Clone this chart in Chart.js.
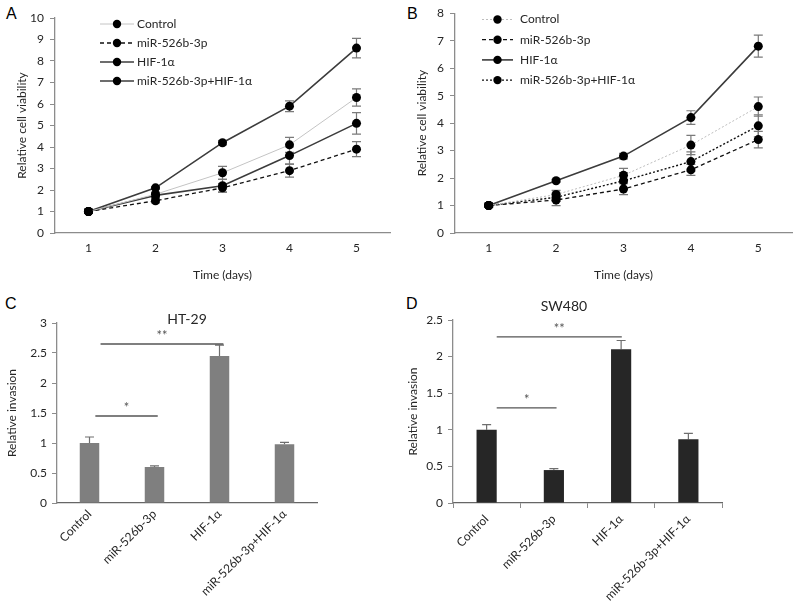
<!DOCTYPE html>
<html>
<head>
<meta charset="utf-8">
<script src="https://cdn.jsdelivr.net/npm/chart.js@4.4.0/dist/chart.umd.min.js"></script>
<style>
  body { margin: 0; background: #fff; width: 800px; height: 605px; position: relative; overflow: hidden; }
  .panel { position: absolute; }
  .letter { position: absolute; font: 16px 'Liberation Sans', Arial, sans-serif; color: #000; }
</style>
</head>
<body>
<div class="letter" style="left:6px;top:5px">A</div>
<div class="letter" style="left:407px;top:5px">B</div>
<div class="letter" style="left:5px;top:295px">C</div>
<div class="letter" style="left:406px;top:295px">D</div>
<canvas id="chartA" class="panel" style="left:0;top:0" width="400" height="290"></canvas>
<canvas id="chartB" class="panel" style="left:400px;top:0" width="400" height="290"></canvas>
<canvas id="chartC" class="panel" style="left:0;top:290px" width="400" height="315"></canvas>
<canvas id="chartD" class="panel" style="left:400px;top:290px" width="400" height="315"></canvas>
<script>
// 数値データ
const days = ['1', '2', '3', '4', '5'];
const groups = ['Control', 'miR-526b-3p', 'HIF-1α', 'miR-526b-3p+HIF-1α'];

// A: 細胞生存率
const aControl = [1, 1.8, 2.8, 4.1, 6.3];
const aControlErr = [0.05, 0.1, 0.3, 0.35, 0.4];
const aMir = [1, 1.5, 2.1, 2.9, 3.9];
const aMirErr = [0.05, 0.1, 0.2, 0.3, 0.35];
const aHif = [1, 2.1, 4.2, 5.9, 8.6];
const aHifErr = [0.05, 0.05, 0.1, 0.25, 0.45];
const aCombo = [1, 1.75, 2.2, 3.6, 5.1];
const aComboErr = [0.05, 0.1, 0.3, 0.4, 0.5];

// B: 細胞生存率
const bControl = [1, 1.4, 2.1, 3.2, 4.6];
const bControlErr = [0.05, 0.15, 0.25, 0.35, 0.35];
const bMir = [1, 1.2, 1.6, 2.3, 3.4];
const bMirErr = [0.05, 0.2, 0.2, 0.2, 0.3];
const bHif = [1, 1.9, 2.8, 4.2, 6.8];
const bHifErr = [0.05, 0.05, 0.1, 0.25, 0.4];
const bCombo = [1, 1.3, 1.9, 2.6, 3.9];
const bComboErr = [0.05, 0.15, 0.3, 0.35, 0.4];

// C, D: 浸潤
const cInvasion = [1.0, 0.6, 2.45, 0.98];
const cInvasionErr = [0.1, 0.02, 0.18, 0.03];
const dInvasion = [1.0, 0.45, 2.1, 0.87];
const dInvasionErr = [0.07, 0.02, 0.12, 0.08];

const FONT = 'Lato';
const AXIS = '#8c8c8c';
const TXT = '#262626';

// エラーバー
const errorBars = {
  id: 'errorBars',
  beforeDatasetsDraw(chart, args, o) {
    const ctx = chart.ctx;
    const y = chart.scales.y;
    chart.data.datasets.forEach((ds, i) => {
      if (!ds.errors) return;
      chart.getDatasetMeta(i).data.forEach((el, j) => {
        const v = ds.data[j], e = ds.errors[j];
        const top = y.getPixelForValue(v + e);
        const bot = o.up ? y.getPixelForValue(v) : y.getPixelForValue(v - e);
        ctx.save();
        ctx.strokeStyle = o.color;
        ctx.lineWidth = 1.2;
        ctx.beginPath();
        ctx.moveTo(el.x, top); ctx.lineTo(el.x, bot);
        ctx.moveTo(el.x - o.cap, top); ctx.lineTo(el.x + o.cap, top);
        if (!o.up) { ctx.moveTo(el.x - o.cap, bot); ctx.lineTo(el.x + o.cap, bot); }
        ctx.stroke();
        ctx.restore();
      });
    });
  }
};

// グラフ内の凡例
const insideLegend = {
  id: 'insideLegend',
  afterDraw(chart, args, o) {
    const ctx = chart.ctx;
    chart.data.datasets.forEach((ds, i) => {
      const y = o.y0 + i * o.dy;
      ctx.save();
      ctx.strokeStyle = ds.borderColor;
      ctx.lineWidth = ds.borderWidth;
      ctx.setLineDash(ds.borderDash || []);
      ctx.beginPath(); ctx.moveTo(o.x0, y); ctx.lineTo(o.x1, y); ctx.stroke();
      ctx.setLineDash([]);
      ctx.fillStyle = '#000';
      ctx.beginPath(); ctx.arc((o.x0 + o.x1) / 2, y, 4.2, 0, Math.PI * 2); ctx.fill();
      ctx.fillStyle = TXT;
      ctx.font = '12px ' + FONT;
      ctx.textBaseline = 'middle';
      ctx.fillText(ds.label, o.xText, y);
      ctx.restore();
    });
  }
};

// タイトルと有意差の線
const barNotes = {
  id: 'barNotes',
  afterDraw(chart, args, o) {
    const ctx = chart.ctx;
    const x = chart.scales.x, y = chart.scales.y;
    const step = x.getPixelForValue(1) - x.getPixelForValue(0);
    ctx.save();
    ctx.fillStyle = TXT;
    ctx.font = '14px ' + FONT;
    ctx.textAlign = 'center';
    ctx.textBaseline = 'middle';
    ctx.fillText(o.title, o.titleX, o.titleY);
    o.marks.forEach(m => {
      const px0 = x.getPixelForValue(0) + m.from * step;
      const px1 = x.getPixelForValue(0) + m.to * step;
      const py = y.getPixelForValue(m.value);
      ctx.strokeStyle = '#555';
      ctx.lineWidth = 1.3;
      ctx.beginPath(); ctx.moveTo(px0, py); ctx.lineTo(px1, py); ctx.stroke();
      ctx.fillStyle = '#555';
      ctx.font = '13px ' + FONT;
      ctx.fillText(m.label, (px0 + px1) / 2, py - 8);
    });
    ctx.restore();
  }
};

function lineSet(label, data, errors, color, width, dash) {
  return {
    label, data, errors,
    borderColor: color, borderWidth: width, borderDash: dash,
    pointRadius: 4.5, pointBackgroundColor: '#000', pointBorderColor: '#000', pointBorderWidth: 0,
    tension: 0, fill: false
  };
}

function lineChart(id, sets, yMax, pad, legend) {
  new Chart(document.getElementById(id), {
    type: 'line',
    data: { labels: days, datasets: sets },
    plugins: [errorBars, insideLegend],
    options: {
      responsive: false, animation: false,
      layout: { padding: pad },
      plugins: {
        legend: { display: false }, tooltip: { enabled: false },
        errorBars: { color: '#7a7a7a', cap: 4.5, up: false },
        insideLegend: legend
      },
      scales: {
        x: {
          offset: true,
          grid: { display: false, drawTicks: false },
          border: { color: AXIS, width: 1.3 },
          ticks: { padding: 8, color: TXT, font: { family: FONT, size: 12 } },
          title: { display: true, text: 'Time (days)', color: TXT, font: { family: FONT, size: 12 }, padding: { top: 0, bottom: 8 } },
          afterFit: s => { s.height = 57; }
        },
        y: {
          min: 0, max: yMax,
          ticks: { stepSize: 1, padding: 6, color: TXT, font: { family: FONT, size: 12 } },
          grid: { drawOnChartArea: false, drawTicks: true, tickLength: 5, color: AXIS },
          border: { color: AXIS, width: 1.3 },
          title: { display: true, text: 'Relative cell viability', color: TXT, font: { family: FONT, size: 12 }, padding: { top: 15, bottom: 0 } },
          afterFit: s => { s.width = 55; }
        }
      }
    }
  });
}

function barChart(id, values, errors, color, yMax, yWidth, pad, xTicks, notes, titlePad) {
  new Chart(document.getElementById(id), {
    type: 'bar',
    data: { labels: groups, datasets: [{ data: values, errors, backgroundColor: color, borderColor: color, borderWidth: 0, categoryPercentage: 1, barPercentage: 0.3 }] },
    plugins: [errorBars, barNotes],
    options: {
      responsive: false, animation: false,
      layout: { padding: pad },
      plugins: {
        legend: { display: false }, tooltip: { enabled: false },
        errorBars: { color: '#6e6e6e', cap: 4.5, up: true },
        barNotes: notes
      },
      scales: {
        x: {
          grid: { display: xTicks, drawOnChartArea: false, drawTicks: xTicks, tickLength: 5, color: AXIS },
          border: { color: '#666', width: 1.3 },
          ticks: { minRotation: 45, maxRotation: 45, padding: 4, color: TXT, font: { family: FONT, size: 12 } },
          afterFit: s => { s.height = 102; }
        },
        y: {
          min: 0, max: yMax,
          ticks: { stepSize: 0.5, padding: 5, color: TXT, font: { family: FONT, size: 12 }, callback: v => String(v) },
          grid: { drawOnChartArea: false, drawTicks: true, tickLength: 5, color: AXIS },
          border: { color: AXIS, width: 1.3 },
          title: { display: true, text: 'Relative invasion', color: TXT, font: { family: FONT, size: 12 }, padding: { top: titlePad, bottom: 0 } },
          afterFit: s => { s.width = yWidth; }
        }
      }
    }
  });
}

lineChart('chartA', [
  lineSet(groups[0], aControl, aControlErr, '#c4c4c4', 1, []),
  lineSet(groups[1], aMir, aMirErr, '#111', 1.3, [4, 3]),
  lineSet(groups[2], aHif, aHifErr, '#3c3c3c', 1.6, []),
  lineSet(groups[3], aCombo, aComboErr, '#3c3c3c', 1.6, [])
], 10, { left: 0, top: 18, right: 10, bottom: 0 },
  { x0: 100, x1: 134, xText: 137, y0: 24, dy: 19 });

lineChart('chartB', [
  lineSet(groups[0], bControl, bControlErr, '#bdbdbd', 1, [2, 2]),
  lineSet(groups[1], bMir, bMirErr, '#111', 1.3, [4, 3]),
  lineSet(groups[2], bHif, bHifErr, '#3c3c3c', 1.6, []),
  lineSet(groups[3], bCombo, bComboErr, '#111', 1.4, [2, 2])
], 8, { left: 0, top: 10, right: 8, bottom: 0 },
  { x0: 82, x1: 113, xText: 120, y0: 19.5, dy: 20.2 });

barChart('chartC', cInvasion, cInvasionErr, '#7f7f7f', 3, 57,
  { left: 0, top: 33, right: 83, bottom: 0 }, false,
  { title: 'HT-29', titleX: 187, titleY: 29,
    marks: [{ from: 0.17, to: 2.06, value: 2.65, label: '**' }, { from: 0.09, to: 1.05, value: 1.45, label: '*' }] }, 5);

barChart('chartD', dInvasion, dInvasionErr, '#262626', 2.5, 53,
  { left: 0, top: 30, right: 78, bottom: 0 }, true,
  { title: 'SW480', titleX: 164, titleY: 16,
    marks: [{ from: 0.15, to: 2.01, value: 2.27, label: '**' }, { from: 0.15, to: 1.04, value: 1.3, label: '*' }] }, 6);
</script>
</body>
</html>
